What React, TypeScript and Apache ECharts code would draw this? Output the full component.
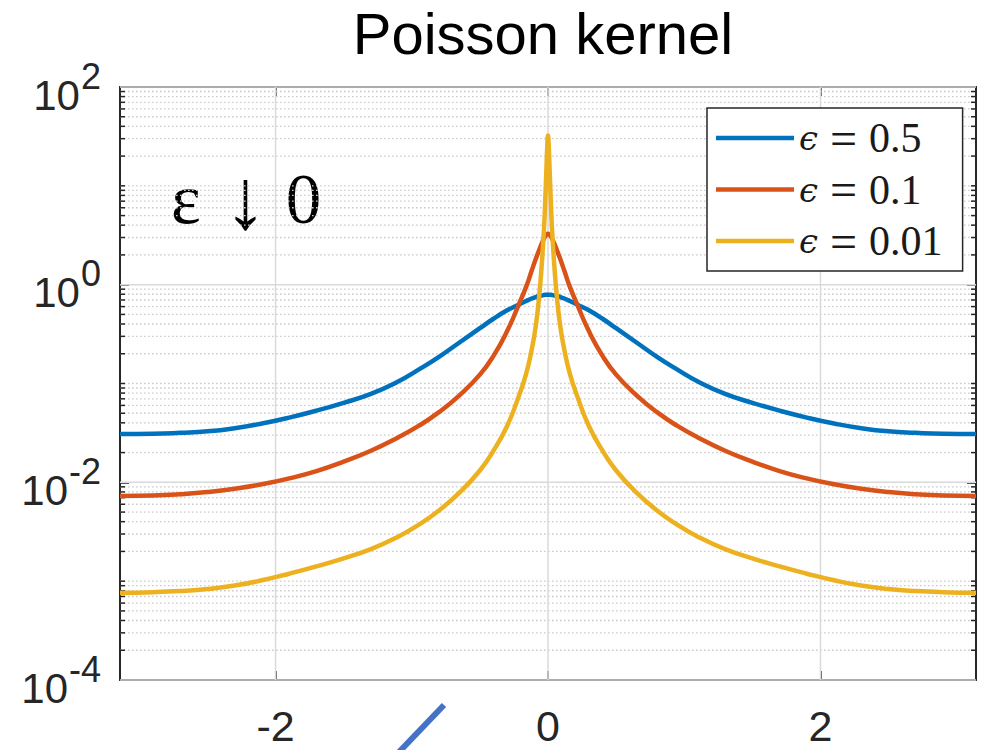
import React, { useEffect, useRef } from 'react';
import * as echarts from 'echarts';

// ---- data ----
const X_MIN = -3.1416;
const X_MAX = 3.1416;
const Y_MIN = 1e-4;
const Y_MAX = 100;

const X = [
  -3.1416, -2.9, -2.7, -2.5, -2.3, -2.1, -1.9, -1.7, -1.5, -1.3, -1.1, -0.95, -0.8, -0.65, -0.5, -0.4, -0.3,
  -0.22, -0.16, -0.12, -0.09, -0.065, -0.045, -0.03, -0.02, -0.012, -0.006, 0,
  0.006, 0.012, 0.02, 0.03, 0.045, 0.065, 0.09, 0.12, 0.16, 0.22, 0.3, 0.4, 0.5, 0.65, 0.8, 0.95, 1.1, 1.3,
  1.5, 1.7, 1.9, 2.1, 2.3, 2.5, 2.7, 2.9, 3.1416,
];

const EPS_05 = [
  0.0308, 0.031, 0.0317, 0.0328, 0.0353, 0.0394, 0.0452, 0.0531, 0.0638, 0.0785, 0.1047, 0.138, 0.186, 0.26,
  0.363, 0.452, 0.55, 0.624, 0.684, 0.724, 0.75, 0.767, 0.778, 0.785, 0.789, 0.791, 0.791, 0.791,
  0.791, 0.791, 0.789, 0.785, 0.778, 0.767, 0.75, 0.724, 0.684, 0.624, 0.55, 0.452, 0.363, 0.26, 0.186, 0.138,
  0.1047, 0.0785, 0.0638, 0.0531, 0.0452, 0.0394, 0.0353, 0.0328, 0.0317, 0.031, 0.0308,
];

const EPS_01 = [
  0.00728, 0.00736, 0.00759, 0.00798, 0.00861, 0.00955, 0.01096, 0.013, 0.0162, 0.0209, 0.0285, 0.0372, 0.0513,
  0.0759, 0.123, 0.1905, 0.339, 0.603, 0.955, 1.38, 1.82, 2.239, 2.63, 2.917, 3.09, 3.199, 3.258, 3.281,
  3.258, 3.199, 3.09, 2.917, 2.63, 2.239, 1.82, 1.38, 0.955, 0.603, 0.339, 0.1905, 0.123, 0.0759, 0.0513,
  0.0372, 0.0285, 0.0209, 0.0162, 0.013, 0.01096, 0.00955, 0.00861, 0.00798, 0.00759, 0.00736, 0.00728,
];

const EPS_001 = [
  0.000762, 0.000773, 0.000794, 0.000832, 0.000902, 0.00102, 0.00119, 0.00141, 0.0017, 0.00211, 0.00282,
  0.00372, 0.00519, 0.00785, 0.01318, 0.0209, 0.0372, 0.0708, 0.126, 0.219, 0.38, 0.759, 1.66, 3.548, 7.244,
  14.45, 23.99, 32.36,
  23.99, 14.45, 7.244, 3.548, 1.66, 0.759, 0.38, 0.219, 0.126, 0.0708, 0.0372, 0.0209, 0.01318, 0.00785,
  0.00519, 0.00372, 0.00282, 0.00211, 0.0017, 0.00141, 0.00119, 0.00102, 0.000902, 0.000832, 0.000794,
  0.000773, 0.000762,
];

const SERIES_NAMES = ['ϵ = 0.5', 'ϵ = 0.1', 'ϵ = 0.01'];
const SERIES_VALUES = [EPS_05, EPS_01, EPS_001];
const COLORS = ['#0072BD', '#D95319', '#EDB120'];

const X_TICKS = [-2, 0, 2];
const Y_TICKS = [1e-4, 1e-2, 1, 100];
const Y_MINOR: number[] = [];
for (let k = -4; k <= 1; k++) {
  for (let m = 1; m <= 9; m++) {
    if (k % 2 === 0 && m === 1) continue;
    Y_MINOR.push(m * Math.pow(10, k));
  }
}

const TITLE = 'Poisson kernel';
const NOTE_PARTS = ['ε', '↓', '0'];

const AXIS_COLOR = '#262626';

export default function App() {
  const ref = useRef<HTMLDivElement>(null);

  useEffect(() => {
    if (!ref.current) return;
    const chart = echarts.init(ref.current, undefined, { renderer: 'svg' });

    const xCommon = {
      min: X_MIN,
      max: X_MAX,
      type: 'value' as const,
      splitLine: { show: false },
      axisLine: { show: true, onZero: false, lineStyle: { color: AXIS_COLOR, width: 2 } },
      axisTick: { show: true, inside: true, length: 9, customValues: X_TICKS, lineStyle: { color: AXIS_COLOR, width: 1.5 } },
    };
    const yCommon = {
      type: 'log' as const,
      logBase: 10,
      min: Y_MIN,
      max: Y_MAX,
      splitLine: { show: false },
      axisLine: { show: true, onZero: false, lineStyle: { color: AXIS_COLOR, width: 2 } },
      axisTick: { show: true, inside: true, length: 9, customValues: Y_TICKS, lineStyle: { color: AXIS_COLOR, width: 1.5 } },
    };

    const option: any = {
      animation: false,
      backgroundColor: '#ffffff',
      grid: { left: 120, right: 11, top: 87, bottom: 70, containLabel: false },
      xAxis: [
        {
          ...xCommon,
          position: 'bottom',
          axisLabel: {
            show: true,
            customValues: X_TICKS,
            margin: 24,
            fontFamily: 'Liberation Sans, Arial, sans-serif',
            fontSize: 43,
            color: AXIS_COLOR,
            formatter: (v: number) => String(v),
          },
        },
        { ...xCommon, position: 'top', axisLabel: { show: false } },
      ],
      yAxis: [
        {
          ...yCommon,
          position: 'left',
          axisLabel: {
            show: true,
            customValues: Y_TICKS,
            margin: 19,
            formatter: (v: number) => {
              const e = Math.round(Math.log10(v));
              return `{b|10}{s|${e}}`;
            },
            rich: {
              b: {
                fontFamily: 'Liberation Sans, Arial, sans-serif',
                fontSize: 42,
                color: AXIS_COLOR,
                padding: [16, 0, 0, 0],
                verticalAlign: 'middle',
              },
              s: {
                fontFamily: 'Liberation Sans, Arial, sans-serif',
                fontSize: 36,
                color: AXIS_COLOR,
                padding: [0, 0, 22, 1],
                verticalAlign: 'middle',
              },
            },
          },
        },
        { ...yCommon, position: 'right', axisLabel: { show: false } },
      ],
      legend: {
        data: SERIES_NAMES,
        orient: 'vertical',
        left: 707,
        top: 108,
        padding: [6, 20, 6, 9],
        itemGap: 3.5,
        itemWidth: 78,
        itemHeight: 4.5,
        icon: 'rect',
        backgroundColor: '#ffffff',
        borderColor: AXIS_COLOR,
        borderWidth: 1.5,
        borderRadius: 0,
        selectedMode: false,
        formatter: (name: string) => {
          const parts = name.split(' = ');
          return `{e|${parts[0]}}{q| = }{t|${parts[1]}}`;
        },
        textStyle: {
          fontFamily: 'Liberation Serif, DejaVu Serif, serif',
          fontSize: 40,
          lineHeight: 44,
          color: '#1a1a1a',
          rich: {
            e: { fontFamily: 'DejaVu Serif, serif', fontStyle: 'italic', fontSize: 34, lineHeight: 44, color: '#1a1a1a' },
            q: { fontFamily: 'Liberation Serif, serif', fontSize: 48, lineHeight: 44, color: '#1a1a1a' },
            t: { fontFamily: 'Liberation Serif, serif', fontSize: 42, lineHeight: 44, color: '#1a1a1a' },
          },
        },
      },
      graphic: [
        {
          type: 'text',
          x: 543,
          y: 33,
          style: {
            text: TITLE,
            fontFamily: 'Liberation Sans, Arial, sans-serif',
            fontSize: 58,
            fill: '#000000',
            align: 'center',
            verticalAlign: 'middle',
          },
        },
        {
          type: 'text',
          x: 171,
          y: 199,
          style: {
            text: `{e|${NOTE_PARTS[0]}}{g| }{a|${NOTE_PARTS[1]}}{h| }{z|${NOTE_PARTS[2]}}`,
            fill: '#000000',
            align: 'left',
            verticalAlign: 'middle',
            rich: {
              e: { fontFamily: 'Liberation Serif, serif', fontSize: 71, lineHeight: 72, fill: '#000000' },
              g: { fontFamily: 'Liberation Serif, serif', fontSize: 71, lineHeight: 72, width: 23 },
              h: { fontFamily: 'Liberation Serif, serif', fontSize: 71, lineHeight: 72, width: 19 },
              a: { fontFamily: 'Liberation Serif, serif', fontSize: 86, lineHeight: 72, fill: '#000000' },
              z: { fontFamily: 'Liberation Serif, serif', fontSize: 71, lineHeight: 72, fill: '#000000' },
            },
          },
        },
        {
          type: 'line',
          shape: { x1: 444, y1: 705, x2: 399, y2: 752 },
          style: { stroke: '#4472C4', lineWidth: 6 },
        },
      ],
      series: [
        {
          type: 'custom',
          name: 'minor',
          silent: true,
          z: 1,
          data: Y_MINOR.map((v) => [0, v]),
          renderItem: (_p: any, api: any) => {
            const v = api.value(1);
            const a = api.coord([X_MIN, v]);
            const b = api.coord([X_MAX, v]);
            return {
              type: 'group',
              children: [
                {
                  type: 'line',
                  shape: { x1: a[0], y1: a[1], x2: b[0], y2: b[1] },
                  style: { stroke: '#cccccc', lineWidth: 1.3, lineDash: [1.6, 2.4] },
                },
                {
                  type: 'line',
                  shape: { x1: a[0], y1: a[1], x2: a[0] + 5, y2: a[1] },
                  style: { stroke: AXIS_COLOR, lineWidth: 1.5 },
                },
                {
                  type: 'line',
                  shape: { x1: b[0], y1: b[1], x2: b[0] - 5, y2: b[1] },
                  style: { stroke: AXIS_COLOR, lineWidth: 1.5 },
                },
              ],
            };
          },
        },
        {
          type: 'custom',
          name: 'majorY',
          silent: true,
          z: 1,
          data: Y_TICKS.map((v) => [0, v]),
          renderItem: (_p: any, api: any) => {
            const v = api.value(1);
            const a = api.coord([X_MIN, v]);
            const b = api.coord([X_MAX, v]);
            return {
              type: 'line',
              shape: { x1: a[0], y1: a[1], x2: b[0], y2: b[1] },
              style: { stroke: '#dadada', lineWidth: 1.5 },
            };
          },
        },
        {
          type: 'custom',
          name: 'majorX',
          silent: true,
          z: 1,
          data: X_TICKS.map((v) => [v, 1]),
          renderItem: (_p: any, api: any) => {
            const v = api.value(0);
            const a = api.coord([v, Y_MIN]);
            const b = api.coord([v, Y_MAX]);
            return {
              type: 'line',
              shape: { x1: a[0], y1: a[1], x2: b[0], y2: b[1] },
              style: { stroke: '#dadada', lineWidth: 1.5 },
            };
          },
        },
        ...SERIES_NAMES.map((name, i) => ({
          type: 'line',
          name,
          z: 3,
          data: X.map((x, j) => [x, SERIES_VALUES[i][j]]),
          showSymbol: false,
          symbol: 'none',
          smooth: 0.5,
          color: COLORS[i],
          itemStyle: { color: COLORS[i] },
          lineStyle: { color: COLORS[i], width: 4.5 },
        })),
      ],
    };

    chart.setOption(option);
    return () => chart.dispose();
  }, []);

  return (
    <div
      ref={ref}
      style={{ position: 'fixed', left: 0, top: 0, width: 987, height: 750, background: '#fff' }}
    />
  );
}
